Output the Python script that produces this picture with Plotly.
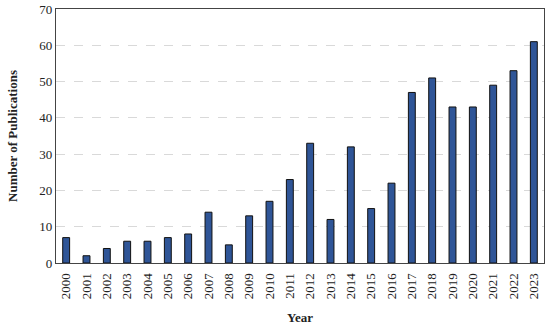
import plotly.graph_objects as go

years = [str(y) for y in range(2000, 2024)]
publications = [7, 2, 4, 6, 6, 7, 8, 14, 5, 13, 17, 23, 33, 12, 32, 15, 22, 47, 51, 43, 43, 49, 53, 61]
y_ticks = [0, 10, 20, 30, 40, 50, 60, 70]

fig = go.Figure(go.Bar(
    x=years, y=publications,
    marker=dict(color="#2F5597", line=dict(color="#111111", width=1)),
    width=0.34,
))

font_family = "Liberation Serif, DejaVu Serif, serif"
fig.update_layout(
    width=550, height=327,
    margin=dict(l=56, r=6, t=9, b=64),
    paper_bgcolor="white", plot_bgcolor="white",
    font=dict(family=font_family, size=13, color="#222222"),
    showlegend=False,
)
fig.update_xaxes(
    type="category", tickangle=-90, ticks="outside", ticklen=4, tickcolor="rgba(0,0,0,0)",
    showgrid=False, automargin=False,
    showline=True, linecolor="#444444", linewidth=1.2, mirror=True,
    title=dict(text="<b>Year</b>", font=dict(size=13, family=font_family), standoff=14),
    tickfont=dict(size=13, family=font_family),
)
fig.update_yaxes(
    range=[0, 70], tickvals=y_ticks, ticks="", automargin=False,
    showgrid=True, gridcolor="#d9d9d9", griddash="dash", gridwidth=1,
    showline=True, linecolor="#444444", linewidth=1.2, mirror=True,
    zeroline=False,
    title=dict(text="<b>Number of Publications</b>", font=dict(size=13, family=font_family), standoff=18),
    tickfont=dict(size=13, family=font_family),
)

fig.write_html("out.html", config={"displayModeBar": False},
               post_script="document.body.style.margin='0';document.body.style.overflow='hidden';")
